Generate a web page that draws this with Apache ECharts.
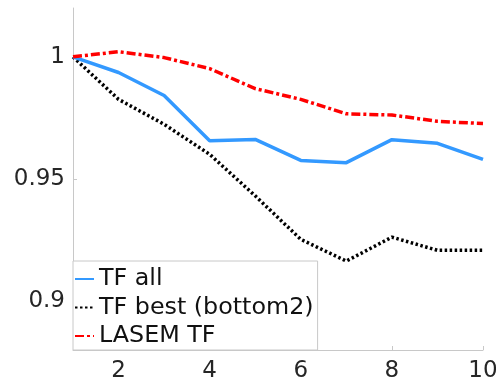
<!DOCTYPE html>
<html>
<head>
<meta charset="utf-8">
<script src="https://cdn.jsdelivr.net/npm/echarts@6/dist/echarts.min.js"></script>
<style>
html,body{margin:0;padding:0;background:#fff;}
#chart{width:496px;height:382px;}
</style>
</head>
<body>
<div id="chart"></div>
<script>
const xValues = [1, 2, 3, 4, 5, 6, 7, 8, 9, 10];
const tfAll = [1.0, 0.9936, 0.9842, 0.9657, 0.9662, 0.9576, 0.9567, 0.9661, 0.9646, 0.9580];
const tfBest = [1.0, 0.9826, 0.9724, 0.9601, 0.9431, 0.9253, 0.9164, 0.9262, 0.9208, 0.9208];
const lasemTf = [1.0, 1.0021, 0.9997, 0.9952, 0.9870, 0.9826, 0.9767, 0.9762, 0.9736, 0.9727];
const xTicks = [2, 4, 6, 8, 10];
const yTicks = [0.9, 0.95, 1];
const seriesNames = ['TF all', 'TF best (bottom2)', 'LASEM TF'];

const pairs = arr => xValues.map((x, i) => [x, arr[i]]);
const font = 'DejaVu Sans';

const chart = echarts.init(document.getElementById('chart'), null, {renderer: 'canvas'});
chart.setOption({
  animation: false,
  backgroundColor: '#fff',
  grid: {left: 73, right: 13, top: 8, bottom: 32, containLabel: false, outerBoundsMode: 'none'},
  xAxis: {
    type: 'value', min: 1, max: 10,
    axisLine: {show: true, lineStyle: {color: '#c8c8c8', width: 1}},
    axisTick: {show: true, inside: true, length: 4, customValues: xTicks, lineStyle: {color: '#c8c8c8'}},
    axisLabel: {customValues: xTicks, margin: 10, color: '#262626', fontFamily: font, fontSize: 23},
    splitLine: {show: false}
  },
  yAxis: {
    type: 'value', min: 0.88, max: 1.02,
    axisLine: {show: true, lineStyle: {color: '#c8c8c8', width: 1}},
    axisTick: {show: true, inside: true, length: 4, customValues: yTicks, lineStyle: {color: '#c8c8c8'}},
    axisLabel: {customValues: yTicks, margin: 8, color: '#262626', fontFamily: font, fontSize: 23},
    splitLine: {show: false}
  },
  legend: {
    show: true,
    orient: 'vertical', left: 73, bottom: 32,
    data: seriesNames,
    itemWidth: 19, itemHeight: 14, itemGap: 2.5,
    padding: [5, 4, 1, 1],
    borderColor: '#c8c8c8', borderWidth: 1, borderRadius: 0,
    backgroundColor: '#fff',
    itemStyle: {opacity: 0},
    textStyle: {fontFamily: font, fontSize: 23.8, color: '#111', lineHeight: 26}
  },
  series: [
    {
      name: seriesNames[0], type: 'line', data: pairs(tfAll), symbol: 'none', z: 3,
      lineStyle: {color: '#3399ff', width: 3.5, type: 'solid'}, itemStyle: {color: '#3399ff'}
    },
    {
      name: seriesNames[1], type: 'line', data: pairs(tfBest), symbol: 'none', z: 2,
      lineStyle: {color: '#000', width: 3.5, type: [2.5, 2.5]}, itemStyle: {color: '#000'}
    },
    {
      name: seriesNames[2], type: 'line', data: pairs(lasemTf), symbol: 'none', z: 4,
      lineStyle: {color: '#ff0000', width: 3.5, type: [9, 3, 3, 3]}, itemStyle: {color: '#ff0000'}
    }
  ]
});
</script>
</body>
</html>
